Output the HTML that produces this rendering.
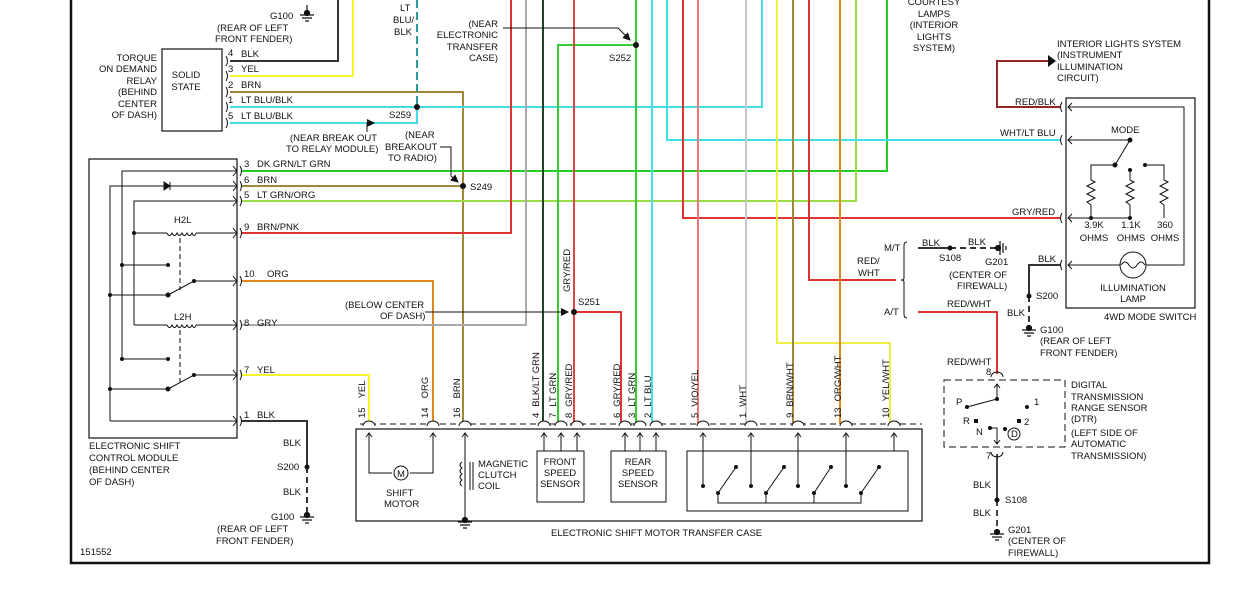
<!DOCTYPE html>
<html><head><meta charset="utf-8"><style>
html,body{margin:0;padding:0;background:#fff;}
svg{display:block;}
text{font-family:"Liberation Sans",sans-serif;font-size:9.5px;fill:#111;}
</style></head><body>
<svg width="1236" height="606" viewBox="0 0 1236 606" xmlns="http://www.w3.org/2000/svg">
<defs>
<marker id="ah" markerWidth="8" markerHeight="8" refX="7" refY="4" orient="auto" markerUnits="userSpaceOnUse"><path d="M0,0 L8,4 L0,8 z" fill="#111"/></marker>
</defs>
<path d="M71,0 V563 H1209 V0" fill="none" stroke="#111" stroke-width="2.5"/>

<g fill="none" stroke-width="2">
<path d="M230,61 H338 V0" stroke="#333"/>
<path d="M230,76 H353 V0" stroke="#f5f530"/>
<path d="M230,92 H463 V424" stroke="#a08838"/>
<path d="M230,107 H762 V0" stroke="#40dde8"/>
<path d="M230,123 H417 V107" stroke="#40dde8"/>
<path d="M417,0 V107" stroke="#2a9aa0" stroke-dasharray="8,4"/>
<path d="M241,171 H887 V0" stroke="#22cc22"/>
<path d="M241,186 H463" stroke="#a08838"/>
<path d="M241,201 H856 V0" stroke="#99dd44"/>
<path d="M241,233 H511 V0" stroke="#dd3333"/>
<path d="M241,281 H433 V424" stroke="#e08820"/>
<path d="M241,325 H526 V0" stroke="#aaaaaa"/>
<path d="M241,375 H369 V424" stroke="#f5f530"/>
<path d="M241,421 H307 V467" stroke="#333"/>
<path d="M307,467 V517" stroke="#333" stroke-dasharray="6,4"/>
<path d="M543,0 V424" stroke="#224422"/>
<path d="M636,45 H558 V424" stroke="#33cc33"/>
<path d="M574,0 V424" stroke="#dd4444"/>
<path d="M574,312 H621 V424" stroke="#dd3333"/>
<path d="M636,0 V424" stroke="#33cc33"/>
<path d="M652,0 V424" stroke="#40e0e8"/>
<path d="M1060,140 H667 V0" stroke="#40e0e8"/>
<path d="M1060,218 H683 V0" stroke="#dd3333"/>
<path d="M698,0 V424" stroke="#ee7777"/>
<path d="M746,0 V424" stroke="#c8c8c8"/>
<path d="M777,0 V343 H890 V424" stroke="#eeee44"/>
<path d="M793,0 V424" stroke="#a08838"/>
<path d="M896,280 H809 V0" stroke="#dd3333"/>
<path d="M840,0 V424" stroke="#e08820"/>
<path d="M1060,107 H997 V61 H1048" stroke="#992222"/>
<path d="M918,312 H997 V374" stroke="#dd3333"/>
<path d="M1060,265 H1029 V296" stroke="#333"/>
<path d="M1029,296 V327" stroke="#333" stroke-dasharray="6,4"/>
<path d="M918,248 H950" stroke="#333"/>
<path d="M950,248 H998" stroke="#333" stroke-dasharray="6,4"/>
<path d="M997,454 V500" stroke="#444"/>
<path d="M997,500 V532" stroke="#444" stroke-dasharray="6,4"/>
</g>
<path d="M1048,55 L1056,61 L1048,67z" fill="#111"/>

<g fill="#111">
<circle cx="417" cy="107" r="3"/><circle cx="463" cy="186" r="3"/><circle cx="636" cy="45" r="3"/>
<circle cx="574" cy="312" r="3"/><circle cx="307" cy="467" r="2.5"/><circle cx="950" cy="248" r="2.5"/>
<circle cx="1029" cy="296" r="2.5"/><circle cx="997" cy="500" r="2.5"/>
</g>
<g stroke="#111" stroke-width="1.2" fill="#111">
<path d="M307,5 V14 M300,15 H314 M302,18 H312 M305,21 H309" /><circle cx="307" cy="13" r="2.5"/>
<path d="M300,517 H314 M302,520 H312 M305,523 H309"/><circle cx="307" cy="515" r="2.5"/>
<path d="M1022,330 H1036 M1024,333 H1034 M1027,336 H1031"/><circle cx="1029" cy="328" r="2.5"/>
<path d="M990,534 H1004 M992,537 H1002 M995,540 H999"/><circle cx="997" cy="532" r="2.5"/>
<path d="M1000,241 V255 M1003,243 V253 M1006,246 V250"/><circle cx="998" cy="248" r="2.5"/>
<path d="M458,522 H472 M460,525 H470 M463,528 H467"/><circle cx="465" cy="520" r="2.5"/>
</g>
<g stroke="#111" stroke-width="1" fill="none">
<path d="M503,28 H618 L630,40" marker-end="url(#ah)"/>
<path d="M367,132 V123 H374" marker-end="url(#ah)"/>
<path d="M440,147 H451 V176 L458,182" marker-end="url(#ah)"/>
<path d="M425,312 H568" marker-end="url(#ah)"/>
</g>

<rect x="162" y="49" width="60" height="82" fill="none" stroke="#111" stroke-width="1.2"/>
<text x="186" y="78" text-anchor="middle">SOLID</text><text x="186" y="90" text-anchor="middle">STATE</text>
<g fill="none" stroke="#111" stroke-width="1">
<path d="M226,56 q3,5 0,10 M226,71 q3,5 0,10 M226,87 q3,5 0,10 M226,102 q3,5 0,10 M226,118 q3,5 0,10"/>
</g>
<g text-anchor="end">
<text x="157" y="61">TORQUE</text><text x="157" y="72">ON DEMAND</text><text x="157" y="84">RELAY</text><text x="157" y="95">(BEHIND</text><text x="157" y="107">CENTER</text><text x="157" y="118">OF DASH)</text>
</g>
<text x="228" y="56">4</text><text x="241" y="57">BLK</text>
<text x="228" y="72">3</text><text x="241" y="72">YEL</text>
<text x="228" y="88">2</text><text x="241" y="88">BRN</text>
<text x="228" y="103">1</text><text x="241" y="103">LT BLU/BLK</text>
<text x="228" y="119">5</text><text x="241" y="119">LT BLU/BLK</text>
<text x="270" y="19">G100</text>
<text x="217" y="31">(REAR OF LEFT</text><text x="215" y="42">FRONT FENDER)</text>
<text x="400" y="11">LT</text><text x="393" y="23">BLU/</text><text x="394" y="35">BLK</text>
<g text-anchor="end"><text x="498" y="27">(NEAR</text><text x="498" y="38">ELECTRONIC</text><text x="498" y="50">TRANSFER</text><text x="498" y="61">CASE)</text></g>
<text x="609" y="61">S252</text>
<text x="389" y="118">S259</text>
<text x="290" y="141">(NEAR BREAK OUT</text><text x="286" y="152">TO RELAY MODULE)</text>
<text x="405" y="138">(NEAR</text><text x="385" y="150">BREAKOUT</text><text x="388" y="161">TO RADIO)</text>
<text x="470" y="190">S249</text>
<text x="578" y="305">S251</text>
<text x="345" y="308">(BELOW CENTER</text><text x="380" y="319">OF DASH)</text>
<text transform="translate(570,292) rotate(-90)">GRY/RED</text>

<rect x="89" y="159" width="148" height="279" fill="none" stroke="#111" stroke-width="1.2"/>
<g fill="none" stroke="#111" stroke-width="1">
<path d="M122,359 V171 H237 M110,421 H237 M110,421 V186 H237 M134,325 V201 H237"/>
<path d="M134,233 H167 M196,233 H237 M134,325 H167 M196,325 H237"/>
<path d="M167,233 q2.5,5 5,0 q2.5,5 5,0 q2.5,5 5,0 q2.5,5 5,0 q2.5,5 5,0 q2.5,5 4,0"/>
<path d="M167,325 q2.5,5 5,0 q2.5,5 5,0 q2.5,5 5,0 q2.5,5 5,0 q2.5,5 5,0 q2.5,5 4,0"/>
<path d="M122,265 H168 M122,359 H168 M110,295 H168 M110,389 H168"/>
<path d="M168,295 L194,281 H237 M168,389 L194,375 H237"/>
<path d="M180,238 V290 M180,330 V382" stroke-dasharray="5,3"/>
<path d="M233,166 l4,5 l-4,5 M233,181 l4,5 l-4,5 M233,196 l4,5 l-4,5 M233,228 l4,5 l-4,5 M233,276 l4,5 l-4,5 M233,320 l4,5 l-4,5 M233,370 l4,5 l-4,5 M233,416 l4,5 l-4,5"/>
<path d="M240,166 q3,5 0,10 M240,181 q3,5 0,10 M240,196 q3,5 0,10 M240,228 q3,5 0,10 M240,276 q3,5 0,10 M240,320 q3,5 0,10 M240,370 q3,5 0,10 M240,416 q3,5 0,10"/>
</g>
<path d="M164,182 L170,186 L164,190z M170,182 V190" fill="#111" stroke="#111"/>
<g fill="#111"><circle cx="122" cy="265" r="2"/><circle cx="168" cy="265" r="2"/><circle cx="122" cy="359" r="2"/><circle cx="168" cy="359" r="2"/>
<circle cx="110" cy="295" r="2"/><circle cx="168" cy="295" r="2.5"/><circle cx="194" cy="281" r="2"/>
<circle cx="110" cy="389" r="2"/><circle cx="168" cy="389" r="2.5"/><circle cx="194" cy="375" r="2"/><circle cx="134" cy="233" r="2"/></g>
<text x="174" y="223">H2L</text><text x="174" y="320">L2H</text>
<text x="244" y="167">3</text><text x="257" y="167">DK GRN/LT GRN</text>
<text x="244" y="183">6</text><text x="257" y="183">BRN</text>
<text x="244" y="198">5</text><text x="257" y="198">LT GRN/ORG</text>
<text x="244" y="230">9</text><text x="257" y="230">BRN/PNK</text>
<text x="244" y="277">10</text><text x="267" y="277">ORG</text>
<text x="244" y="326">8</text><text x="257" y="326">GRY</text>
<text x="244" y="373">7</text><text x="257" y="373">YEL</text>
<text x="244" y="418">1</text><text x="257" y="418">BLK</text>
<text x="89" y="449">ELECTRONIC SHIFT</text><text x="89" y="461">CONTROL MODULE</text><text x="89" y="473">(BEHIND CENTER</text><text x="89" y="485">OF DASH)</text>
<text x="283" y="446">BLK</text><text x="277" y="470">S200</text><text x="283" y="495">BLK</text><text x="271" y="520">G100</text>
<text x="217" y="532">(REAR OF LEFT</text><text x="216" y="544">FRONT FENDER)</text>
<text x="80" y="555">151552</text>

<path d="M360,424 H922" stroke="#111" stroke-width="1" stroke-dasharray="6,4"/>
<rect x="356" y="429" width="566" height="92" fill="none" stroke="#111" stroke-width="1.2"/>
<g fill="#fff" stroke="#111" stroke-width="1">
<path d="M363,426 a6,5 0 0 1 12,0 M427,426 a6,5 0 0 1 12,0 M459,426 a6,5 0 0 1 12,0 M538,426 a6,5 0 0 1 12,0 M555,426 a6,5 0 0 1 12,0 M571,426 a6,5 0 0 1 12,0 M619,426 a6,5 0 0 1 12,0 M634,426 a6,5 0 0 1 12,0 M650,426 a6,5 0 0 1 12,0 M697,426 a6,5 0 0 1 12,0 M745,426 a6,5 0 0 1 12,0 M792,426 a6,5 0 0 1 12,0 M840,426 a6,5 0 0 1 12,0 M888,426 a6,5 0 0 1 12,0"/>
</g>
<g fill="none" stroke="#111" stroke-width="1">
<path d="M369,434 V473 H392 M410,473 H433 V434 M465,434 V520 M544,434 V451 M561,434 V451 M577,434 V451 M625,434 V451 M640,434 V451 M656,434 V451"/>
<path d="M366,437 l3,-4 l3,4 M430,437 l3,-4 l3,4 M462,437 l3,-4 l3,4 M541,437 l3,-4 l3,4 M558,437 l3,-4 l3,4 M574,437 l3,-4 l3,4 M622,437 l3,-4 l3,4 M637,437 l3,-4 l3,4 M653,437 l3,-4 l3,4 M700,437 l3,-4 l3,4 M748,437 l3,-4 l3,4 M795,437 l3,-4 l3,4 M843,437 l3,-4 l3,4 M891,437 l3,-4 l3,4"/>
<circle cx="401" cy="473" r="7"/>
<rect x="537" y="451" width="47" height="51"/><rect x="611" y="451" width="55" height="51"/>
<rect x="687" y="451" width="221" height="60"/>
<path d="M703,434 V486 M751,434 V486 M798,434 V486 M846,434 V486 M894,434 V451"/>
<path d="M718,493 L736,467 M766,493 L784,467 M814,493 L831,467 M861,493 L879,467 M718,493 V503 H861 V493 M766,493 V503 M814,493 V503"/>
<path d="M462,462 q-4,3 0,6 q-4,3 0,6 q-4,3 0,6 q-4,3 0,6 M470,462 V490 M473,462 V490"/>
</g>
<text x="397" y="477" font-size="9">M</text>
<g fill="#111"><circle cx="703" cy="486" r="2"/><circle cx="751" cy="486" r="2"/><circle cx="798" cy="486" r="2"/><circle cx="846" cy="486" r="2"/>
<circle cx="718" cy="493" r="2"/><circle cx="766" cy="493" r="2"/><circle cx="814" cy="493" r="2"/><circle cx="861" cy="493" r="2"/>
<circle cx="736" cy="467" r="2"/><circle cx="784" cy="467" r="2"/><circle cx="831" cy="467" r="2"/><circle cx="879" cy="467" r="2"/></g>
<text x="386" y="496">SHIFT</text><text x="384" y="507">MOTOR</text>
<text x="478" y="467">MAGNETIC</text><text x="478" y="478">CLUTCH</text><text x="478" y="489">COIL</text>
<g text-anchor="middle"><text x="560" y="465">FRONT</text><text x="560" y="476">SPEED</text><text x="560" y="487">SENSOR</text>
<text x="638" y="465">REAR</text><text x="638" y="476">SPEED</text><text x="638" y="487">SENSOR</text></g>
<text x="551" y="536">ELECTRONIC SHIFT MOTOR TRANSFER CASE</text>
<g>
<text transform="translate(365,418) rotate(-90)">15<tspan dx="9">YEL</tspan></text>
<text transform="translate(428,418) rotate(-90)">14<tspan dx="9">ORG</tspan></text>
<text transform="translate(460,418) rotate(-90)">16<tspan dx="9">BRN</tspan></text>
<text transform="translate(539,418) rotate(-90)">4<tspan dx="6">BLK/LT GRN</tspan></text>
<text transform="translate(556,418) rotate(-90)">7<tspan dx="6">LT GRN</tspan></text>
<text transform="translate(572,418) rotate(-90)">8<tspan dx="6">GRY/RED</tspan></text>
<text transform="translate(620,418) rotate(-90)">6<tspan dx="6">GRY/RED</tspan></text>
<text transform="translate(635,418) rotate(-90)">3<tspan dx="6">LT GRN</tspan></text>
<text transform="translate(651,418) rotate(-90)">2<tspan dx="6">LT BLU</tspan></text>
<text transform="translate(698,418) rotate(-90)">5<tspan dx="6">VIO/YEL</tspan></text>
<text transform="translate(746,418) rotate(-90)">1<tspan dx="6">WHT</tspan></text>
<text transform="translate(793,418) rotate(-90)">9<tspan dx="6">BRN/WHT</tspan></text>
<text transform="translate(841,418) rotate(-90)">13<tspan dx="6">ORG/WHT</tspan></text>
<text transform="translate(889,418) rotate(-90)">10<tspan dx="6">YEL/WHT</tspan></text>
</g>

<g text-anchor="middle"><text x="934" y="5">COURTESY</text><text x="934" y="17">LAMPS</text><text x="934" y="28">(INTERIOR</text><text x="934" y="40">LIGHTS</text><text x="934" y="51">SYSTEM)</text></g>
<text x="1057" y="47">INTERIOR LIGHTS SYSTEM</text><text x="1057" y="58">(INSTRUMENT</text><text x="1057" y="70">ILLUMINATION</text><text x="1057" y="81">CIRCUIT)</text>
<text x="1015" y="105">RED/BLK</text><text x="1000" y="136">WHT/LT BLU</text><text x="1012" y="215">GRY/RED</text><text x="1038" y="262">BLK</text>
<rect x="1066" y="98" width="129" height="210" fill="none" stroke="#111" stroke-width="1.2"/>
<g fill="none" stroke="#111" stroke-width="1">
<path d="M1062,102 q-3,5 0,10 M1062,135 q-3,5 0,10 M1062,213 q-3,5 0,10 M1062,260 q-3,5 0,10"/>
<path d="M1072,103 l-4,4 l4,4 M1072,136 l-4,4 l4,4 M1072,214 l-4,4 l4,4 M1072,261 l-4,4 l4,4"/>
<path d="M1068,107 H1184 V265 H1146 M1120,265 H1068 M1068,140 H1130 L1115,165 H1091 V180 M1091,205 V218 M1130,170 V180 M1130,205 V218 M1145,165 H1164 V180 M1164,205 V218 M1068,218 H1130"/>
<path d="M1091,180 l4,2 l-8,4 l8,4 l-8,4 l8,4 l-8,4 l4,3 M1130,180 l4,2 l-8,4 l8,4 l-8,4 l8,4 l-8,4 l4,3 M1164,180 l4,2 l-8,4 l8,4 l-8,4 l8,4 l-8,4 l4,3"/>
<circle cx="1133" cy="265" r="13"/>
<path d="M1121,265 q4,-6 8,0 q4,6 8,0 q4,-6 8,0"/>
<path d="M907,242 q-3,0 -3,4 V278 q0,2 -3,2 q3,0 3,2 V314 q0,4 3,4"/>
</g>
<g fill="#111"><circle cx="1130" cy="140" r="2.5"/><circle cx="1115" cy="165" r="2.5"/><circle cx="1130" cy="170" r="2"/><circle cx="1145" cy="165" r="2"/><circle cx="1091" cy="218" r="2"/><circle cx="1130" cy="218" r="2"/></g>
<text x="1111" y="133">MODE</text>
<g text-anchor="middle"><text x="1094" y="228">3.9K</text><text x="1094" y="241">OHMS</text><text x="1131" y="228">1.1K</text><text x="1131" y="241">OHMS</text><text x="1165" y="228">360</text><text x="1165" y="241">OHMS</text>
<text x="1133" y="291">ILLUMINATION</text><text x="1133" y="302">LAMP</text></g>
<text x="1104" y="320">4WD MODE SWITCH</text>
<text x="1036" y="299">S200</text><text x="1007" y="316">BLK</text><text x="1040" y="333">G100</text><text x="1040" y="344">(REAR OF LEFT</text><text x="1040" y="356">FRONT FENDER)</text>
<text x="884" y="251">M/T</text><text x="857" y="264">RED/</text><text x="858" y="276">WHT</text><text x="884" y="315">A/T</text>
<text x="922" y="246">BLK</text><text x="968" y="245">BLK</text><text x="939" y="261">S108</text><text x="985" y="265">G201</text><text x="949" y="278">(CENTER OF</text><text x="957" y="289">FIREWALL)</text>
<text x="947" y="307">RED/WHT</text>
<text x="947" y="365">RED/WHT</text><text x="986" y="375">8</text><text x="986" y="459">7</text>
<rect x="944" y="380" width="121" height="67" fill="none" stroke="#111" stroke-width="1" stroke-dasharray="7,4"/>
<g fill="none" stroke="#111" stroke-width="1">
<path d="M991,377 a6,5 0 0 1 12,0 M991,452 a6,5 0 0 0 12,0"/>
<path d="M997,399 V384 M994,388 l3,-4 l3,4 M997,399 L967,407 M990,428 H997 V444 M994,440 l3,4 l3,-4"/>
<circle cx="1014" cy="434" r="6"/>
</g>
<g fill="#111"><circle cx="997" cy="399" r="2"/><circle cx="967" cy="407" r="2"/><circle cx="1027" cy="407" r="2"/><rect x="974" y="419" width="4" height="4"/><rect x="1017" y="419" width="4" height="4"/><circle cx="990" cy="428" r="2"/><circle cx="1005" cy="429" r="2"/></g>
<text x="956" y="405">P</text><text x="1034" y="405">1</text><text x="963" y="424">R</text><text x="1024" y="425">2</text><text x="976" y="435">N</text><text x="1011" y="437" font-size="8">D</text>
<text x="1071" y="388">DIGITAL</text><text x="1071" y="400">TRANSMISSION</text><text x="1071" y="411">RANGE SENSOR</text><text x="1071" y="422">(DTR)</text><text x="1071" y="436">(LEFT SIDE OF</text><text x="1071" y="447">AUTOMATIC</text><text x="1071" y="459">TRANSMISSION)</text>
<text x="973" y="488">BLK</text><text x="1005" y="503">S108</text><text x="973" y="516">BLK</text><text x="1008" y="533">G201</text><text x="1008" y="544">(CENTER OF</text><text x="1008" y="556">FIREWALL)</text>
</svg>
</body></html>
